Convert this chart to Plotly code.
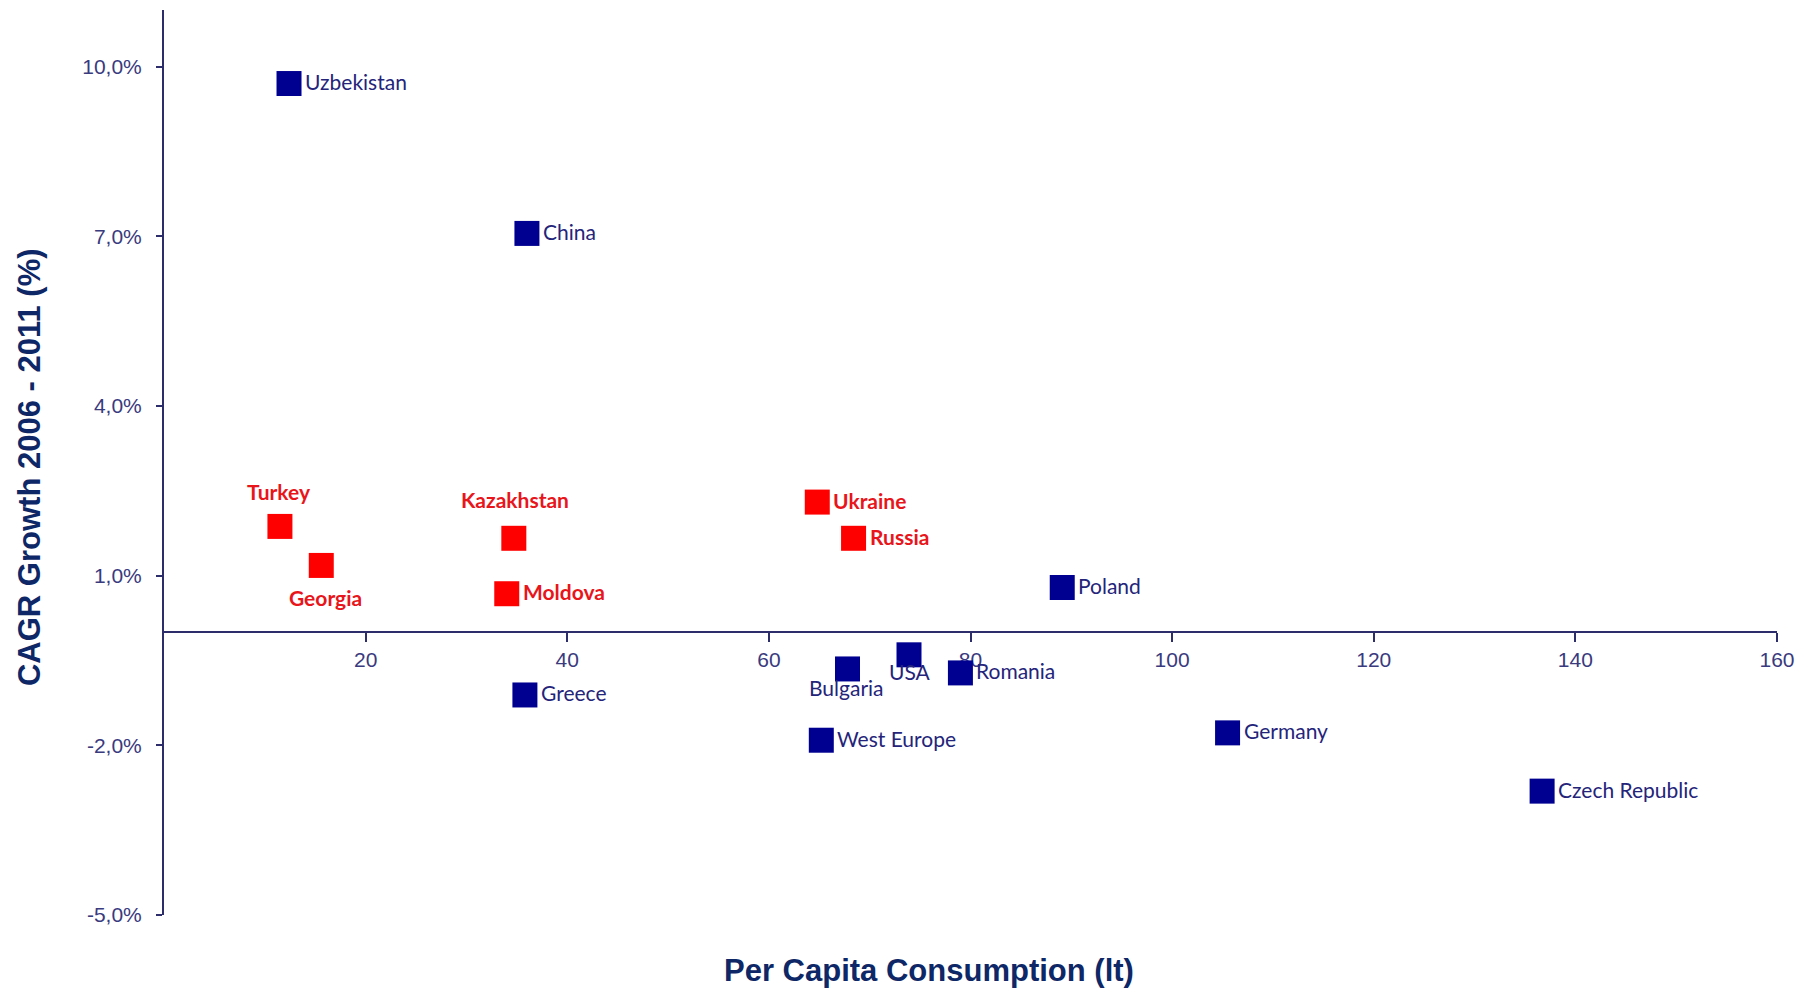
import plotly.graph_objects as go

# Per capita consumption (litres) vs. CAGR growth 2006-2011 (%)
countries = ["Uzbekistan", "China", "Turkey", "Georgia", "Kazakhstan", "Moldova",
             "Ukraine", "Russia", "Poland", "USA", "Bulgaria", "Romania",
             "Greece", "West Europe", "Germany", "Czech Republic"]
consumption = [12.4, 36.0, 11.5, 15.6, 34.7, 34.0,
               64.8, 68.4, 89.1, 73.9, 67.8, 79.0,
               35.8, 65.2, 105.5, 136.7]
cagr = [9.70, 7.05, 1.87, 1.18, 1.66, 0.68,
        2.30, 1.66, 0.79, -0.40, -0.65, -0.72,
        -1.11, -1.91, -1.78, -2.81]
highlighted = ["Turkey", "Georgia", "Kazakhstan", "Moldova", "Ukraine", "Russia"]

x_ticks = [20, 40, 60, 80, 100, 120, 140, 160]
y_ticks = [-5, -2, 1, 4, 7, 10]
y_tick_labels = ["-5,0%", "-2,0%", "1,0%", "4,0%", "7,0%", "10,0%"]

# label placement: (xanchor, yanchor, xshift, yshift)
RIGHT = ("left", "middle", 14, 2)
label_place = {
    "Turkey": ("center", "middle", -1, 35),
    "Kazakhstan": ("center", "middle", 1, 39),
    "Georgia": ("center", "middle", 4, -32),
    "USA": ("center", "middle", 1, -17),
    "Bulgaria": ("center", "middle", -1, -19),
}

BLUE = "#000090"
RED = "#FF0000"
BLUE_TXT = "#24247A"
RED_TXT = "#E8151B"
AXIS = "#2D2D6B"
TICK_TXT = "#3A3A7E"
TITLE = "#0E2766"

fig = go.Figure()

for group, color in [(False, BLUE), (True, RED)]:
    xs = [x for c, x in zip(countries, consumption) if (c in highlighted) == group]
    ys = [y for c, y in zip(countries, cagr) if (c in highlighted) == group]
    fig.add_trace(go.Scatter(
        x=xs, y=ys, mode="markers",
        marker=dict(symbol="square", size=25, color=color, line=dict(width=0)),
        hoverinfo="skip", showlegend=False,
    ))

annotations = []
for c, x, y in zip(countries, consumption, cagr):
    xa, ya, xs, ys = label_place.get(c, RIGHT)
    red = c in highlighted
    annotations.append(dict(
        x=x, y=y, xref="x", yref="y", text=f"<b>{c}</b>" if red else c,
        showarrow=False, xanchor=xa, yanchor=ya, xshift=xs, yshift=ys,
        font=dict(family="Lato, Open Sans, sans-serif", size=21,
                  color=RED_TXT if red else BLUE_TXT),
    ))

annotations.append(dict(
    text="<b>Per Capita Consumption (lt)</b>", xref="paper", yref="paper",
    x=0.4744, y=0, yshift=-55, xanchor="center", yanchor="middle", showarrow=False,
    font=dict(family="Liberation Sans, Arial, sans-serif", size=31, color=TITLE),
))
annotations.append(dict(
    text="<b>CAGR Growth 2006 - 2011 (%)</b>", xref="paper", yref="paper",
    x=0, xshift=-135, y=0.495, xanchor="center", yanchor="middle", textangle=-90,
    showarrow=False,
    font=dict(family="Liberation Sans, Arial, sans-serif", size=31, color=TITLE),
))

fig.update_layout(
    width=1811, height=990,
    margin=dict(l=164, r=34, t=10, b=75),
    plot_bgcolor="white", paper_bgcolor="white",
    annotations=annotations,
    xaxis=dict(
        range=[0, 160], tickvals=x_ticks, showgrid=False, zeroline=False,
        showline=True, linecolor=AXIS, linewidth=2,
        ticks="outside", ticklen=9, tickwidth=2, tickcolor=AXIS,
        anchor="free", position=5 / 16, layer="below traces",
        tickfont=dict(family="Liberation Sans, Arial, sans-serif", size=21, color=TICK_TXT),
    ),
    yaxis=dict(
        range=[-5, 11], tickvals=y_ticks, ticktext=y_tick_labels,
        showgrid=False, zeroline=False,
        showline=True, linecolor=AXIS, linewidth=2,
        ticks="outside", ticklen=6, tickwidth=2, tickcolor=AXIS,
        ticklabelstandoff=10,
        tickfont=dict(family="Liberation Sans, Arial, sans-serif", size=21, color=TICK_TXT),
    ),
)

fig.write_html("out.html")
